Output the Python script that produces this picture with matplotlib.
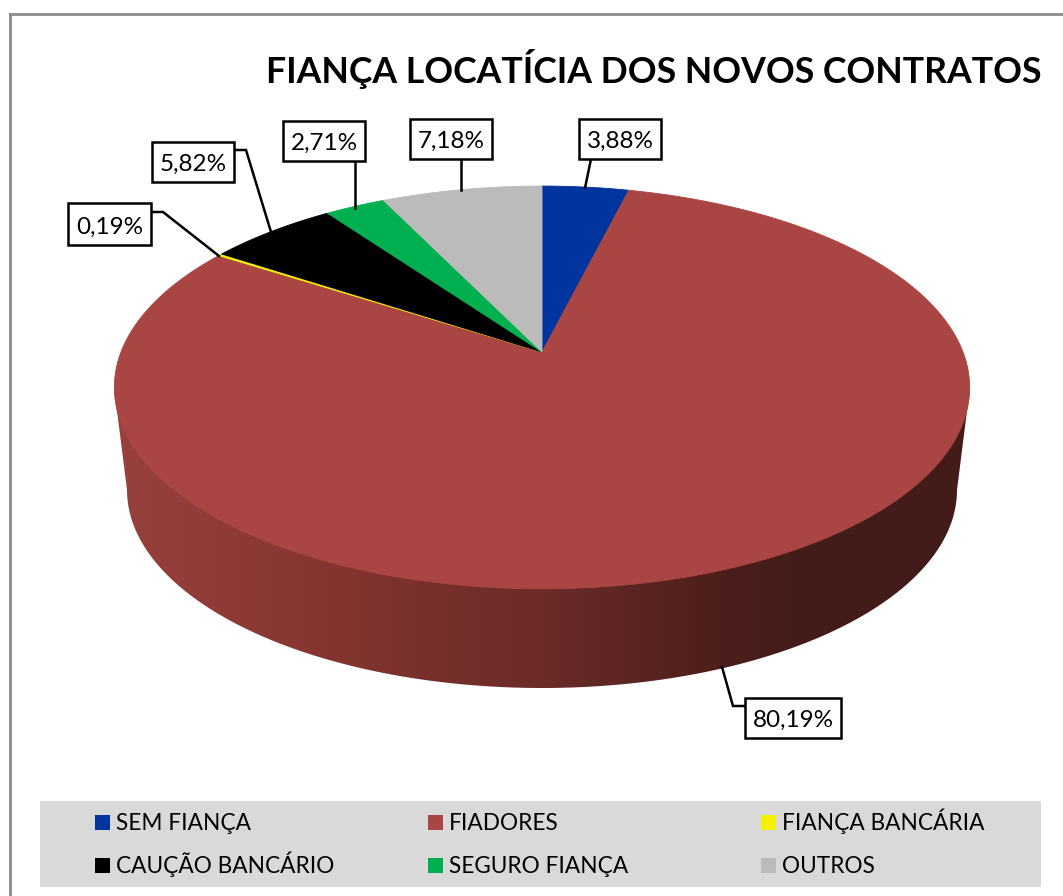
import numpy as np
from matplotlib import pyplot as plt
from matplotlib.colors import LinearSegmentedColormap
from matplotlib.patches import Polygon, Rectangle

plt.rcParams['font.family'] = ['Lato', 'DejaVu Sans']

TITLE = 'FIANÇA LOCATÍCIA DOS NOVOS CONTRATOS'
categories = ['SEM FIANÇA', 'FIADORES', 'FIANÇA BANCÁRIA', 'CAUÇÃO BANCÁRIO', 'SEGURO FIANÇA', 'OUTROS']
values = [3.88, 80.19, 0.19, 5.82, 2.71, 7.18]
value_labels = ['3,88%', '80,19%', '0,19%', '5,82%', '2,71%', '7,18%']
colors = ['#00349E', '#A94543', '#F5F000', '#000000', '#00B050', '#BBBBBB']

# caixas dos rotulos (x0, y0, x1, y1) em pixels
label_boxes = [(579, 119, 661, 159), (745, 698, 841, 738), (68, 203, 151, 245),
               (152, 142, 234, 182), (283, 121, 365, 161), (410, 119, 492, 159)]
leaders = [[(591, 159), (585, 188)], [(745, 706), (733, 706), (722, 667)],
           [(151, 212), (163, 212), (219, 256)], [(234, 150), (246, 150), (271, 232)],
           [(355, 161), (355, 208)], [(461, 159), (461, 190)]]
legend_slots = [(95, 815), (428, 815), (761, 815), (95, 858), (428, 858), (761, 858)]

# perspectiva do topo da pizza
CX, APEX_Y = 542, 352
A, P, K = 421.0, -133.2, 0.176


def top_point(theta):
    u, v = np.sin(theta), np.cos(theta)
    d = 1 + K * v
    return CX + A * u / d, (APEX_Y + P * v) / d


fig = plt.figure(figsize=(10.63, 8.96), dpi=100)
ax = fig.add_axes([0, 0, 1, 1])

# lateral com gradiente
t = np.linspace(0, np.pi, 200)
side = [(114, 387)] + [(542 - 415 * np.cos(a), 490 + 198 * np.sin(a)) for a in t] + [(970, 387)]
side_patch = Polygon(side, closed=True, facecolor='none', edgecolor='none')
ax.add_patch(side_patch)
side_cmap = LinearSegmentedColormap.from_list('side', [(0, '#98413E'), (0.25, '#85352F'), (0.5, '#6B2B29'),
                                                       (0.72, '#4C1E1B'), (0.8, '#431C19'), (1, '#431C19')])
im = ax.imshow(np.linspace(0, 1, 512)[None, :], cmap=side_cmap, extent=(114, 970, 700, 380), aspect='auto',
               interpolation='bilinear')
im.set_clip_path(side_patch)

# topo
fractions = np.cumsum([0] + values) / sum(values)
for i, color in enumerate(colors):
    th = np.linspace(fractions[i], fractions[i + 1], 300) * 2 * np.pi
    x, y = top_point(th)
    ax.fill(np.r_[CX, x], np.r_[APEX_Y, y], facecolor=color, edgecolor=color, lw=0.6, zorder=3)

# moldura
ax.plot([10, 10], [896, 14], color='#8C8C8C', lw=2, zorder=1)
ax.plot([10, 1063], [14, 14], color='#8C8C8C', lw=2, zorder=1)

ax.text(1041, 83, TITLE, ha='right', va='baseline', fontsize=25.7, fontweight='bold', color='black')

# rotulos
for box, line, label in zip(label_boxes, leaders, value_labels):
    xs, ys = zip(*line)
    ax.plot(xs, ys, color='black', lw=1.8, zorder=4, solid_joinstyle='miter')
    x0, y0, x1, y1 = box
    ax.add_patch(Rectangle((x0, y0), x1 - x0, y1 - y0, facecolor='white', edgecolor='black', lw=1.8, zorder=5))
    ax.text((x0 + x1) / 2, y1 - 11.5, label, ha='center', va='baseline', fontsize=17.5, color='black', zorder=6)

# legenda
ax.add_patch(Rectangle((40, 801), 1001, 86, facecolor='#D9D9D9', edgecolor='none', zorder=2))
for (lx, ly), name, color in zip(legend_slots, categories, colors):
    ax.add_patch(Rectangle((lx, ly), 14.5, 15, facecolor=color, edgecolor='none', zorder=3))
    ax.text(lx + 21, ly + 15, name, ha='left', va='baseline', fontsize=16.3, color='black', zorder=3)

ax.set_xlim(0, 1063)
ax.set_ylim(896, 0)
ax.axis('off')

fig.savefig('out.png', dpi=100)
